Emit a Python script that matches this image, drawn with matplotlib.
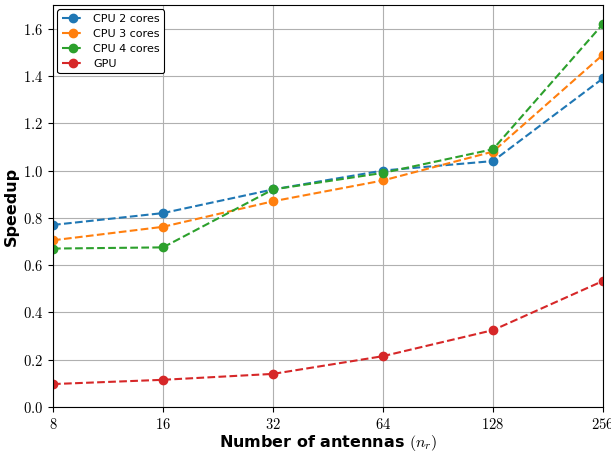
import matplotlib
matplotlib.use("Agg")
import matplotlib.pyplot as plt
from matplotlib.ticker import FuncFormatter, FixedLocator

plt.rcParams["mathtext.fontset"] = "cm"

# Number of antennas
antennas = [8, 16, 32, 64, 128, 256]

# Speedup per configuration
cpu2 = [0.77, 0.82, 0.92, 1.00, 1.04, 1.39]
cpu3 = [0.705, 0.762, 0.87, 0.958, 1.08, 1.49]
cpu4 = [0.67, 0.675, 0.92, 0.99, 1.09, 1.62]
gpu = [0.097, 0.115, 0.14, 0.215, 0.325, 0.533]

series = [
    ("CPU 2 cores", cpu2, "#1f77b4"),
    ("CPU 3 cores", cpu3, "#ff7f0e"),
    ("CPU 4 cores", cpu4, "#2ca02c"),
    ("GPU", gpu, "#d62728"),
]

fig = plt.figure(figsize=(6.11, 4.54), dpi=100)
ax = fig.add_axes([53 / 611, 1 - 407 / 454, 550 / 611, 402 / 454])

for label, vals, color in series:
    ax.plot(antennas, vals, "--o", color=color, label=label,
            linewidth=1.5, markersize=6)

ax.set_xscale("log", base=2)
ax.set_xlim(8, 256)
ax.set_ylim(0, 1.7)
ax.xaxis.set_major_locator(FixedLocator(antennas))
ax.xaxis.set_minor_locator(FixedLocator([]))
ax.xaxis.set_major_formatter(FuncFormatter(lambda v, p: f"${int(v)}$"))
ax.yaxis.set_major_formatter(FuncFormatter(lambda v, p: f"${v:.1f}$"))
ax.tick_params(labelsize=10.5)

ax.grid(True, color="#b0b0b0", linewidth=0.8)
ax.set_axisbelow(True)

ax.set_xlabel(r"Number of antennas $(n_r)$", fontsize=11.5, fontweight="bold",
              labelpad=1)
ax.set_ylabel("Speedup", fontsize=11.5, fontweight="bold", labelpad=3)

leg = ax.legend(loc="upper left", fontsize=8, framealpha=1,
                edgecolor="black", handlelength=2, labelspacing=0.45,
                borderaxespad=0.4)
leg.get_frame().set_linewidth(0.8)

fig.savefig("out.png", dpi=100)
